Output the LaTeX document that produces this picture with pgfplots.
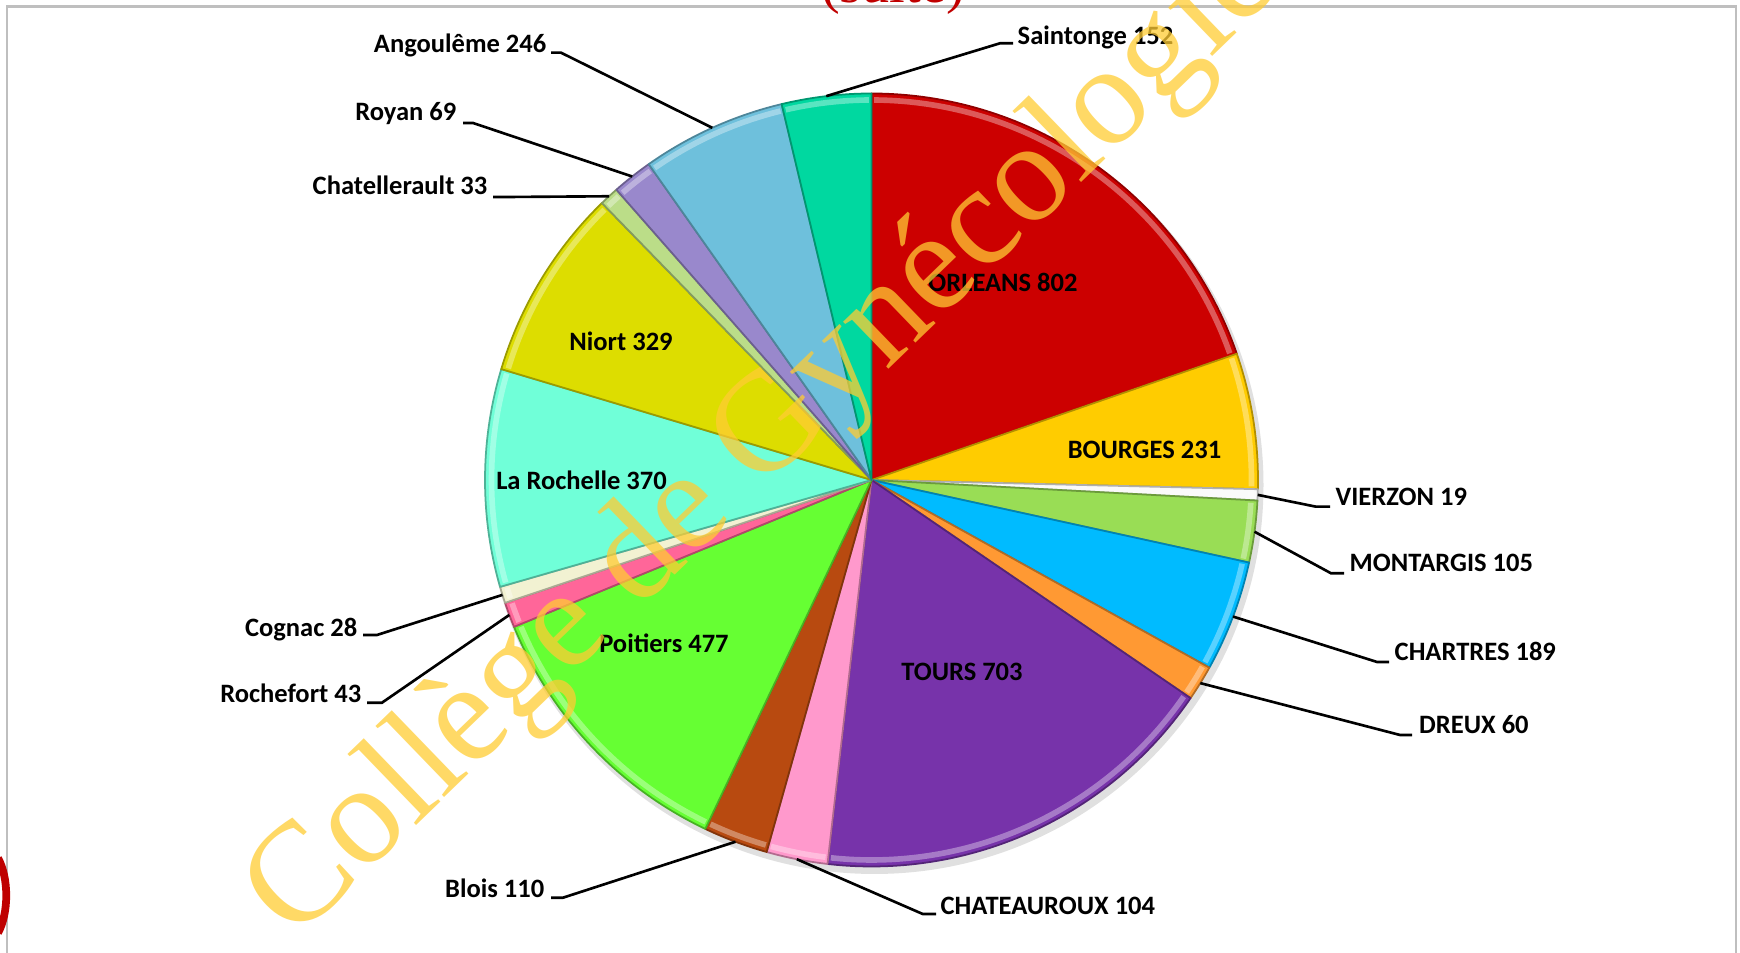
\documentclass[border=0pt]{standalone}
\usepackage{fontspec}
\setmainfont{Carlito}
\newfontfamily\wmfont{Liberation Serif}
\usepackage{pgfplots}
\usepackage{pgfplotstable}
\pgfplotsset{compat=1.18}
\usetikzlibrary{calc}

% slice colours, clockwise from 12 o'clock
\definecolor{pc0}{HTML}{CC0000}
\definecolor{pc1}{HTML}{FFCC00}
\definecolor{pc2}{HTML}{FAFAFA}
\definecolor{pc3}{HTML}{99DD55}
\definecolor{pc4}{HTML}{00BBFF}
\definecolor{pc5}{HTML}{FF9933}
\definecolor{pc6}{HTML}{7733AA}
\definecolor{pc7}{HTML}{FF99CC}
\definecolor{pc8}{HTML}{B84A10}
\definecolor{pc9}{HTML}{66FF33}
\definecolor{pc10}{HTML}{FF6699}
\definecolor{pc11}{HTML}{F2F2D2}
\definecolor{pc12}{HTML}{70FFD8}
\definecolor{pc13}{HTML}{DDDD00}
\definecolor{pc14}{HTML}{BBDD88}
\definecolor{pc15}{HTML}{9988CC}
\definecolor{pc16}{HTML}{6EC0DC}
\definecolor{pc17}{HTML}{00D8A0}
\definecolor{wmyellow}{RGB}{255,204,51}
\definecolor{suitered}{RGB}{192,0,0}

\pgfplotstableread[col sep=comma]{
label,value
ORLEANS,802
BOURGES,231
VIERZON,19
MONTARGIS,105
CHARTRES,189
DREUX,60
TOURS,703
CHATEAUROUX,104
Blois,110
Poitiers,477
Rochefort,43
Cognac,28
La Rochelle,370
Niort,329
Chatellerault,33
Royan,69
Angoulême,246
Saintonge,152
}\pietable

\newcommand\pa[1]{\csname pieA#1\endcsname}
\newcommand\pb[1]{\csname pieB#1\endcsname}
\newcommand\pmid[1]{\csname pieM#1\endcsname}
\def\R{3.865cm}

\begin{document}
\begin{tikzpicture}[
  lab/.style={font=\fontsize{7.55}{9}\selectfont\bfseries,inner sep=0pt},
  lead/.style={black,line width=0.75pt}]
% slice angles from the table
\def\pietotal{0}
\pgfplotstableforeachcolumnelement{value}\of\pietable\as\pv{%
  \pgfmathsetmacro\ptmp{\pietotal+\pv}\xdef\pietotal{\ptmp}}
\def\piecum{0}
\pgfplotstableforeachcolumnelement{value}\of\pietable\as\pv{%
  \pgfmathsetmacro\pA{90-360*(\piecum/\pietotal)}%
  \pgfmathsetmacro\pC{\piecum+\pv}%
  \pgfmathsetmacro\pB{90-360*(\pC/\pietotal)}%
  \pgfmathsetmacro\pM{(\pA+\pB)/2}%
  \expandafter\xdef\csname pieA\pgfplotstablerow\endcsname{\pA}%
  \expandafter\xdef\csname pieB\pgfplotstablerow\endcsname{\pB}%
  \expandafter\xdef\csname pieM\pgfplotstablerow\endcsname{\pM}%
  \xdef\piecum{\pC}}

\begin{axis}[x=1cm,y=1cm,xmin=0,xmax=17.4,ymin=0,ymax=9.53,hide axis]
\coordinate (O) at (axis cs:8.715,4.73);
% frame
\draw[black!25,line width=0.6pt] (axis cs:0.07,-0.2) -- (axis cs:0.07,9.465) -- (axis cs:17.36,9.465) -- (axis cs:17.36,-0.2);
\node[font=\wmfont\fontsize{16}{18}\selectfont,text=suitered,anchor=base,inner sep=0pt] at (axis cs:8.93,9.505) {(suite)};
\draw[red!75!black,line width=2.2pt] (axis cs:-0.02,0.95) .. controls (axis cs:0.09,0.75) and (axis cs:0.09,0.40) .. (axis cs:-0.02,0.20);
% shadow
\fill[black,opacity=0.12] ($(O)+(0.03,-0.05)$) circle[radius=3.89cm];
% slices
\pgfplotsinvokeforeach{0,...,17}{
  \fill[pc#1] (O) -- ($(O)+(\pa{#1}:\R)$) arc[start angle=\pa{#1},end angle=\pb{#1},radius=\R] -- cycle;
  \draw[white,opacity=0.35,line width=1.6pt] ($(O)+(\pa{#1}-0.4:3.80cm)$) arc[start angle=\pa{#1}-0.4,end angle=\pb{#1}+0.4,radius=3.80cm];
  \draw[pc#1!70!black,line width=0.5pt,line join=round] (O) -- ($(O)+(\pa{#1}:\R)$) arc[start angle=\pa{#1},end angle=\pb{#1},radius=\R] -- cycle;
}
% inside labels
\node[lab,anchor=base] at (axis cs:10.03,6.61) {ORLEANS 802};
\node[lab,anchor=base] at (axis cs:11.445,4.945) {BOURGES 231};
\node[lab,anchor=base] at (axis cs:9.62,2.72) {TOURS 703};
\node[lab,anchor=base] at (axis cs:6.64,3.00) {Poitiers 477};
\node[lab,anchor=base] at (axis cs:5.815,4.63) {La Rochelle 370};
\node[lab,anchor=base] at (axis cs:6.21,6.027) {Niort 329};
% outside labels with leaders
\draw[lead] ($(O)+(\pmid{2}:\R)$) -- (axis cs:13.16,4.463) -- (axis cs:13.30,4.463);
\node[lab,anchor=base west] at (axis cs:13.35,4.47) {VIERZON 19};
\draw[lead] ($(O)+(\pmid{3}:\R)$) -- (axis cs:13.31,3.797) -- (axis cs:13.44,3.797);
\node[lab,anchor=base west] at (axis cs:13.49,3.81) {MONTARGIS 105};
\draw[lead] ($(O)+(\pmid{4}:\R)$) -- (axis cs:13.77,2.91) -- (axis cs:13.89,2.91);
\node[lab,anchor=base west] at (axis cs:13.94,2.92) {CHARTRES 189};
\draw[lead] ($(O)+(\pmid{5}:\R)$) -- (axis cs:14.00,2.18) -- (axis cs:14.12,2.18);
\node[lab,anchor=base west] at (axis cs:14.185,2.19) {DREUX 60};
\draw[lead] ($(O)+(\pmid{7}:\R)$) -- (axis cs:9.227,0.39) -- (axis cs:9.36,0.39);
\node[lab,anchor=base west] at (axis cs:9.40,0.38) {CHATEAUROUX 104};
\draw[lead] ($(O)+(\pmid{8}:\R)$) -- (axis cs:5.63,0.553) -- (axis cs:5.51,0.553);
\node[lab,anchor=base east] at (axis cs:5.45,0.55) {Blois 110};
\draw[lead] ($(O)+(\pmid{10}:\R)$) -- (axis cs:3.82,2.503) -- (axis cs:3.67,2.503);
\node[lab,anchor=base east] at (axis cs:3.62,2.50) {Rochefort 43};
\draw[lead] ($(O)+(\pmid{11}:\R)$) -- (axis cs:3.77,3.18) -- (axis cs:3.63,3.18);
\node[lab,anchor=base east] at (axis cs:3.58,3.163) {Cognac 28};
\draw[lead] ($(O)+(\pmid{14}:\R)$) -- (axis cs:5.09,7.56) -- (axis cs:4.93,7.56);
\node[lab,anchor=base east] at (axis cs:4.88,7.58) {Chatellerault 33};
\draw[lead] ($(O)+(\pmid{15}:\R)$) -- (axis cs:4.73,8.30) -- (axis cs:4.63,8.30);
\node[lab,anchor=base east] at (axis cs:4.57,8.32) {Royan 69};
\draw[lead] ($(O)+(\pmid{16}:\R)$) -- (axis cs:5.61,9.003) -- (axis cs:5.51,9.003);
\node[lab,anchor=base east] at (axis cs:5.47,9.005) {Angoulême 246};
\draw[lead] ($(O)+(\pmid{17}:\R)$) -- (axis cs:10.00,9.097) -- (axis cs:10.13,9.097);
\node[lab,anchor=base west] at (axis cs:10.17,9.08) {Saintonge 152};
% watermark
\node[font=\wmfont\fontsize{40.5}{41}\selectfont,text=wmyellow,opacity=0.75,rotate=44,anchor=base west,inner sep=0pt] at (axis cs:2.94,0.10) {Collège de Gynécologie};
\end{axis}
\pgfresetboundingbox
\useasboundingbox (0,0) rectangle (17.4,9.53);
\end{tikzpicture}
\end{document}
